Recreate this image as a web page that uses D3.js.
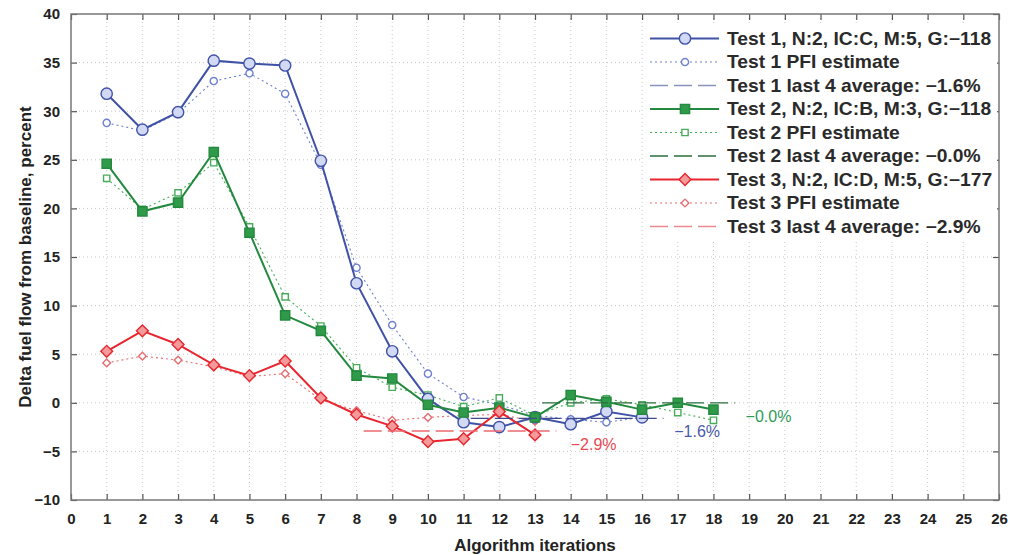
<!DOCTYPE html>
<html>
<head>
<meta charset="utf-8">
<script src="https://cdn.jsdelivr.net/npm/d3@7"></script>
<style>
  body { margin: 0; background: #fff; }
  svg text { font-family: "Liberation Sans", Arial, sans-serif; }
</style>
</head>
<body>
<svg width="1014" height="555"></svg>
<script>
// chart size
var width = 1014;
var height = 555;

// iterations and series values
var iterations = [1, 2, 3, 4, 5, 6, 7, 8, 9, 10, 11, 12, 13, 14, 15, 16, 17, 18];

var test1 = [31.8, 28.1, 29.9, 35.2, 34.9, 34.7, 24.9, 12.3, 5.3, 0.4, -2.0, -2.5, -1.5, -2.2, -0.9, -1.5];
var test1Pfi = [28.8, 28.0, 29.8, 33.1, 33.9, 31.8, 24.5, 13.9, 8.0, 3.0, 0.6, -0.2, -1.3, -1.7, -2.0, -1.5];
var test2 = [24.6, 19.7, 20.6, 25.8, 17.5, 9.0, 7.4, 2.8, 2.5, -0.2, -1.0, -0.5, -1.5, 0.8, 0.1, -0.7, 0.0, -0.7];
var test2Pfi = [23.1, 19.9, 21.6, 24.7, 18.1, 10.9, 7.9, 3.6, 1.6, 0.8, -0.4, 0.5, -1.3, 0.0, 0.4, -0.2, -1.0, -1.8];
var test3 = [5.3, 7.4, 6.0, 3.9, 2.8, 4.3, 0.5, -1.2, -2.4, -4.0, -3.7, -0.9, -3.3];
var test3Pfi = [4.1, 4.8, 4.4, 3.7, 2.7, 3.0, 0.3, -0.8, -1.8, -1.5, -1.3, -1.2, -1.9];

var averages = [-1.6, -0.0, -2.9];
var averageLabels = ["\u22121.6%", "\u22120.0%", "\u22122.9%"];

var legendLabels = [
  "Test 1, N:2, IC:C, M:5, G:\u2212118",
  "Test 1 PFI estimate",
  "Test 1 last 4 average: \u22121.6%",
  "Test 2, N:2, IC:B, M:3, G:\u2212118",
  "Test 2 PFI estimate",
  "Test 2 last 4 average: \u22120.0%",
  "Test 3, N:2, IC:D, M:5, G:\u2212177",
  "Test 3 PFI estimate",
  "Test 3 last 4 average: \u22122.9%"
];

var xTicks = d3.range(0, 27);
var yTicks = [-10, -5, 0, 5, 10, 15, 20, 25, 30, 35, 40];

var svg = d3.select("svg").attr("width", width).attr("height", height);

// plot box
var plotLeft = 71, plotRight = 999, plotTop = 14, plotBottom = 500;

var xScale = d3.scaleLinear().domain([0, 26]).range([plotLeft, plotRight]);
var yScale = d3.scaleLinear().domain([-10, 40]).range([plotBottom, plotTop]);

// dotted grid
svg.append("g").selectAll("line").data(xTicks.slice(1, -1)).join("line")
  .attr("x1", d => xScale(d)).attr("x2", d => xScale(d))
  .attr("y1", plotTop).attr("y2", plotBottom)
  .attr("stroke", "#c8c8c8").attr("stroke-dasharray", "1,3");
svg.append("g").selectAll("line").data(yTicks.slice(1, -1)).join("line")
  .attr("x1", plotLeft).attr("x2", plotRight)
  .attr("y1", d => yScale(d)).attr("y2", d => yScale(d))
  .attr("stroke", "#c8c8c8").attr("stroke-dasharray", "1,3");

// axes with inward ticks on all four sides
var axisColor = "#555";
var xAxis = d3.axisBottom(xScale).tickValues(xTicks).tickSize(-6).tickPadding(13).tickSizeOuter(0);
var yAxis = d3.axisLeft(yScale).tickValues(yTicks).tickSize(-6).tickPadding(11).tickSizeOuter(0)
  .tickFormat(d => d < 0 ? "\u2212" + Math.abs(d) : d);

svg.append("g").attr("transform", "translate(0," + plotBottom + ")").call(xAxis);
svg.append("g").attr("transform", "translate(" + plotLeft + ",0)").call(yAxis);
svg.append("g").attr("transform", "translate(0," + plotTop + ")")
  .call(d3.axisTop(xScale).tickValues(xTicks).tickSize(-6).tickFormat(""));
svg.append("g").attr("transform", "translate(" + plotRight + ",0)")
  .call(d3.axisRight(yScale).tickValues(yTicks).tickSize(-6).tickFormat(""));

svg.selectAll(".domain").remove();
svg.selectAll(".tick line").attr("stroke", axisColor).attr("stroke-width", 1.2);
svg.selectAll(".tick text").attr("fill", "#222").attr("font-size", 15).attr("font-weight", "bold");

svg.append("rect")
  .attr("x", plotLeft).attr("y", plotTop).attr("width", plotRight - plotLeft).attr("height", plotBottom - plotTop)
  .attr("fill", "none").attr("stroke", "#777").attr("stroke-width", 1.5);

// axis titles
svg.append("text")
  .attr("x", xScale(13)).attr("y", 551).attr("text-anchor", "middle")
  .attr("font-size", 17).attr("font-weight", "bold").attr("fill", "#222")
  .text("Algorithm iterations");
svg.append("text")
  .attr("transform", "translate(31," + yScale(15) + ") rotate(-90)")
  .attr("text-anchor", "middle")
  .attr("font-size", 17).attr("font-weight", "bold").attr("fill", "#222")
  .text("Delta fuel flow from baseline, percent");

// series styles
var blue = "#3f52a6", green = "#23893e", red = "#e8262f";
var series = [
  { values: test1, color: blue, width: 2, dash: null, marker: "circle", size: 100, fill: "#d2d9f5" },
  { values: test1Pfi, color: "#6e80d0", width: 1.1, dash: "2,3", marker: "circle", size: 40, fill: "#fff" },
  { values: test2, color: green, width: 2, dash: null, marker: "square", size: 85, fill: "#2f9a4a" },
  { values: test2Pfi, color: "#49ad5c", width: 1.1, dash: "2,3", marker: "square", size: 40, fill: "#fff" },
  { values: test3, color: red, width: 2, dash: null, marker: "diamond", size: 70, fill: "#f59a9a" },
  { values: test3Pfi, color: "#e46e72", width: 1.1, dash: "2,3", marker: "diamond", size: 30, fill: "#fff" }
];

// diamonds are squares turned 45 degrees, like the reference
var symbols = { circle: d3.symbolCircle, square: d3.symbolSquare, diamond: d3.symbolSquare };
function turn(s) { return s.marker === "diamond" ? " rotate(45)" : ""; }

var line = d3.line().x((d, i) => xScale(iterations[i])).y(d => yScale(d));

// draw dotted estimates first, solid tests on top
[1, 3, 5, 0, 2, 4].forEach(function (k) {
  var s = series[k];
  svg.append("path").datum(s.values)
    .attr("d", line).attr("fill", "none")
    .attr("stroke", s.color).attr("stroke-width", s.width)
    .attr("stroke-dasharray", s.dash);
  svg.append("g").selectAll("path").data(s.values).join("path")
    .attr("transform", (d, i) => "translate(" + xScale(iterations[i]) + "," + yScale(d) + ")" + turn(s))
    .attr("d", d3.symbol().type(symbols[s.marker]).size(s.size))
    .attr("fill", s.fill).attr("stroke", s.color).attr("stroke-width", 1.4);
});

// last-4 average segments
var avgColors = ["#3c4a8c", "#2a6e3c", "#ec6a70"];
var lastIter = [test1.length, test2.length, test3.length];
averages.forEach(function (a, k) {
  svg.append("line")
    .attr("x1", xScale(lastIter[k] - 4.8)).attr("x2", xScale(lastIter[k] + 0.6))
    .attr("y1", yScale(a)).attr("y2", yScale(a))
    .attr("stroke", avgColors[k]).attr("stroke-width", 1.3)
    .attr("stroke-dasharray", "18,6");
});

// average annotations
var annColors = ["#4a5aa8", "#2e9a58", "#e64a50"];
var annPos = [[16.9, -1.6], [18.9, 0.0], [14.0, -2.9]];
averageLabels.forEach(function (t, k) {
  svg.append("text")
    .attr("x", xScale(annPos[k][0])).attr("y", yScale(annPos[k][1]) + 19)
    .attr("font-size", 16).attr("fill", annColors[k])
    .text(t);
});

// legend
var legendStyles = [
  series[0], series[1], { color: "#8a92bc", width: 1.6, dash: "18,6", marker: null },
  series[2], series[3], { color: "#2a6e3c", width: 1.3, dash: "18,6", marker: null },
  series[4], series[5], { color: "#ea8a8e", width: 1.6, dash: "18,6", marker: null }
];
var legend = svg.append("g");
legend.append("rect").attr("x", 643).attr("y", 24).attr("width", 354).attr("height", 216).attr("fill", "#fff");
legendLabels.forEach(function (t, k) {
  var s = legendStyles[k];
  var y = 38.5 + k * 23.5;
  legend.append("line")
    .attr("x1", 650).attr("x2", 719).attr("y1", y).attr("y2", y)
    .attr("stroke", s.color).attr("stroke-width", s.width)
    .attr("stroke-dasharray", s.dash);
  if (s.marker) {
    legend.append("path")
      .attr("transform", "translate(685," + y + ")" + turn(s))
      .attr("d", d3.symbol().type(symbols[s.marker]).size(s.size))
      .attr("fill", s.fill).attr("stroke", s.color).attr("stroke-width", 1.4);
  }
  legend.append("text")
    .attr("transform", "translate(727," + (y + 6) + ") scale(1.1,1)")
    .attr("font-size", 17.5).attr("font-weight", "bold").attr("fill", "#2a2a2a")
    .text(t);
});
</script>
</body>
</html>
